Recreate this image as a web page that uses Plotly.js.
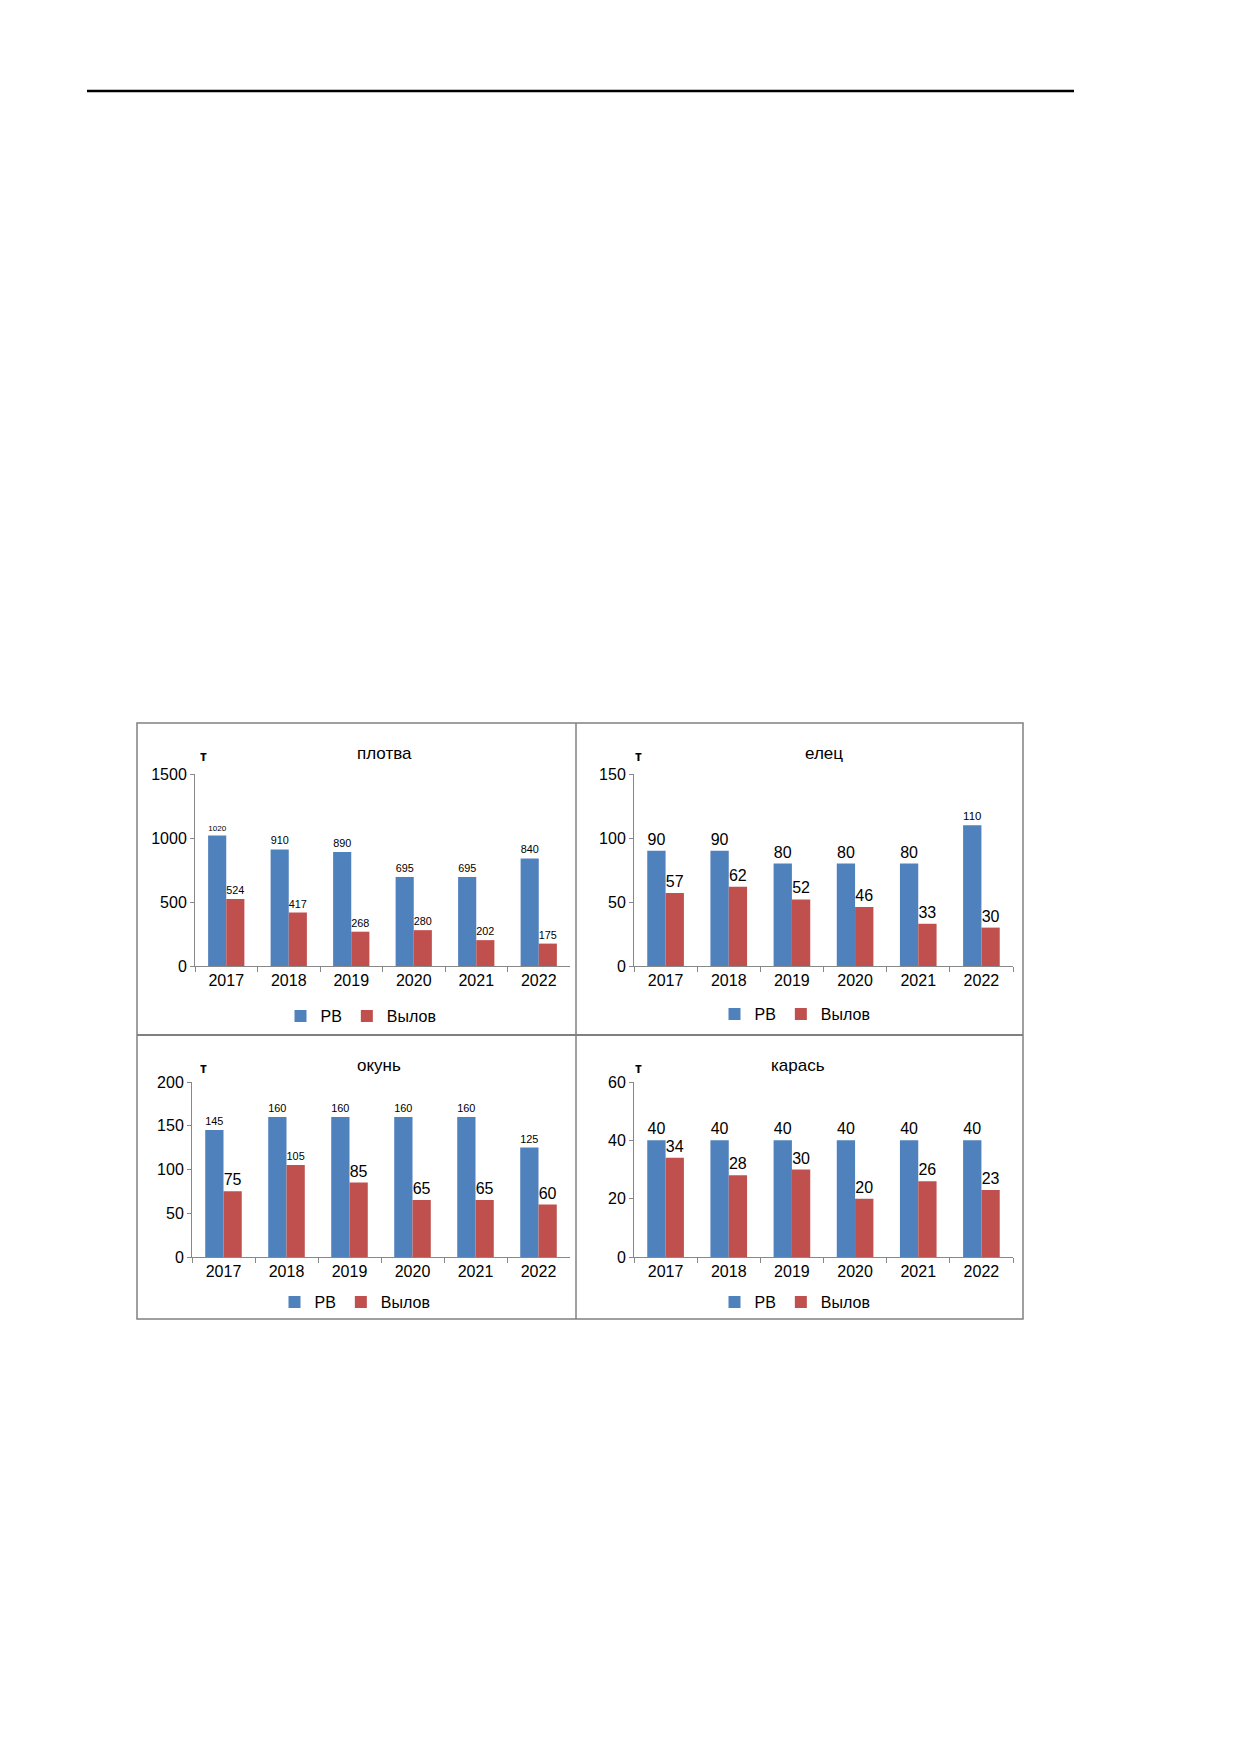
<!DOCTYPE html>
<html><head><meta charset="utf-8">
<script src="https://cdn.plot.ly/plotly-3.0.1.min.js"></script>
<style>body{margin:0;background:#fff}#c{width:1240px;height:1754px}</style>
</head><body><div id="c"></div>
<script>
const years = ["2017", "2018", "2019", "2020", "2021", "2022"];
const titles = ["плотва", "елец", "окунь", "карась"];
const rvPlotva = [1020, 910, 890, 695, 695, 840];
const catchPlotva = [524, 417, 268, 280, 202, 175];
const rvElets = [90, 90, 80, 80, 80, 110];
const catchElets = [57, 62, 52, 46, 33, 30];
const rvOkun = [145, 160, 160, 160, 160, 125];
const catchOkun = [75, 105, 85, 65, 65, 60];
const rvKaras = [40, 40, 40, 40, 40, 40];
const catchKaras = [34, 28, 30, 20, 26, 23];
const ranges = [[0, 1500], [0, 150], [0, 200], [0, 60]];
const dticks = [500, 50, 50, 20];

const W = 1240, H = 1754;
const px = (a, b) => [a / W, b / W];
const py = (top, bot) => [1 - bot / H, 1 - top / H];
const panels = [
  { x: px(195, 570), y: py(774, 966), tx: 355, ty: 753, tt: 198, lx: 361, ly: 1016 },
  { x: px(634, 1013), y: py(774, 966), tx: 845, ty: 753, tt: 638, lx: 795, ly: 1014 },
  { x: px(192, 570), y: py(1082, 1257), tx: 355, ty: 1065, tt: 198, lx: 355, ly: 1302 },
  { x: px(634, 1013), y: py(1082, 1257), tx: 798, ty: 1065, tt: 638, lx: 795, ly: 1302 },
];
const series = [[rvPlotva, catchPlotva], [rvElets, catchElets], [rvOkun, catchOkun], [rvKaras, catchKaras]];
const font = { family: "Liberation Sans Narrow, Liberation Sans, sans-serif", size: 16, color: "#000" };

const data = [];
const layout = {
  width: W, height: H, margin: { l: 0, r: 0, t: 0, b: 0 },
  paper_bgcolor: "#fff", plot_bgcolor: "#fff", font,
  barmode: "group", bargap: 0.42, bargroupgap: 0,
  showlegend: true, annotations: [], shapes: [],
};
panels.forEach((p, i) => {
  const n = i === 0 ? "" : String(i + 1);
  const leg = i === 0 ? "legend" : "legend" + (i + 1);
  ["РВ", "Вылов"].forEach((name, j) => {
    data.push({
      type: "bar", x: years, y: series[i][j], name,
      xaxis: "x" + n, yaxis: "y" + n, legend: leg,
      marker: { color: j === 0 ? "#4F81BD" : "#C0504D" },
      text: series[i][j].map(String), textposition: "outside", cliponaxis: false,
      textfont: font,
    });
  });
  layout["xaxis" + n] = {
    domain: p.x, anchor: "y" + n, type: "category", showline: true, linecolor: "#888",
    ticks: "outside", tickson: "boundaries", ticklen: 5, tickcolor: "#888", tickfont: font,
    showgrid: false, fixedrange: true,
  };
  layout["yaxis" + n] = {
    domain: p.y, anchor: "x" + n, range: ranges[i], dtick: dticks[i], showline: true,
    linecolor: "#888", ticks: "outside", ticklen: 4, tickcolor: "#888", showgrid: false,
    zeroline: false, tickfont: font, fixedrange: true,
  };
  layout[leg] = {
    orientation: "h", x: p.lx / W, y: 1 - p.ly / H, xanchor: "center", yanchor: "middle",
    font, itemwidth: 30, tracegroupgap: 0, bgcolor: "rgba(0,0,0,0)",
  };
  layout.annotations.push({ text: titles[i], x: p.tx / W, y: 1 - p.ty / H, xref: "paper", yref: "paper",
    showarrow: false, font: { ...font, size: 17 } });
  layout.annotations.push({ text: "<b>т</b>", x: p.tt / W, y: 1 - 756 / H + (i > 1 ? -(1067 - 755) / H : 0),
    xref: "paper", yref: "paper", showarrow: false, font: { ...font, size: 14 } });
});
const line = (x0, y0, x1, y1, w, c) => ({ type: "line", xref: "paper", yref: "paper",
  x0: x0 / W, x1: x1 / W, y0: 1 - y0 / H, y1: 1 - y1 / H, line: { color: c, width: w } });
layout.shapes.push(line(87, 91, 1074, 91, 2.5, "#000"));
layout.shapes.push({ type: "rect", xref: "paper", yref: "paper", x0: 137 / W, x1: 1023 / W,
  y0: 1 - 1319 / H, y1: 1 - 723 / H, line: { color: "#808080", width: 1.5 } });
layout.shapes.push(line(576, 723, 576, 1319, 1.5, "#808080"));
layout.shapes.push(line(137, 1035, 1023, 1035, 2, "#808080"));
Plotly.newPlot("c", data, layout, { displayModeBar: false, staticPlot: true });
</script></body></html>
